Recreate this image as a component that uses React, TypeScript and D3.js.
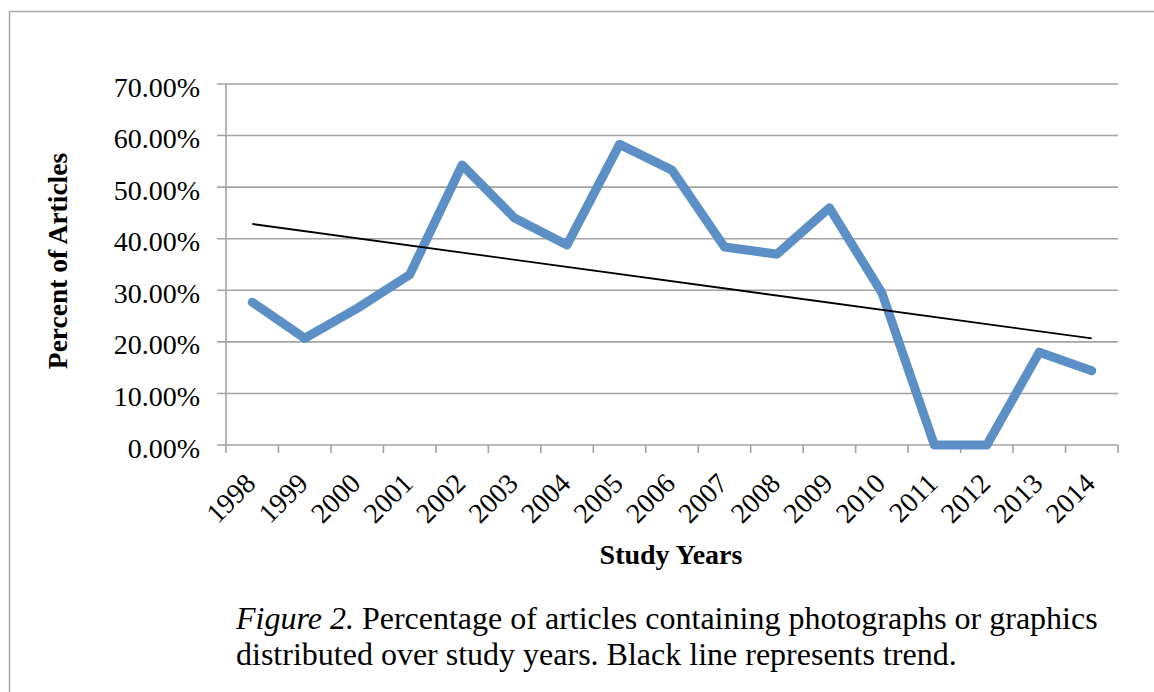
import React from "react";
import * as d3 from "d3";

const years = ["1998","1999","2000","2001","2002","2003","2004","2005","2006","2007","2008","2009","2010","2011","2012","2013","2014"];
const percents = [27.7, 20.7, 26.5, 33.0, 54.3, 44.0, 38.8, 58.3, 53.3, 38.4, 37.0, 46.0, 29.5, 0, 0, 18.0, 14.4];
const yTicks = [0, 10, 20, 30, 40, 50, 60, 70];
const yTitle = "Percent of Articles";
const xTitle = "Study Years";
const captionItalic = "Figure 2.";
const captionLine1 = " Percentage of articles containing photographs or graphics";
const captionLine2 = "distributed over study years. Black line represents trend.";

const W = 1154, H = 692;
const plot = { left: 226, right: 1118, top: 84, bottom: 445 };
const serif = "'Liberation Serif', 'Times New Roman', serif";
const grid = "#a3a3a3";

export default function App() {
  const x = d3.scaleBand<string>().domain(years).range([plot.left, plot.right]).padding(0);
  const y = d3.scaleLinear().domain([0, 70]).range([plot.bottom, plot.top]);
  const cx = (yr: string) => (x(yr) as number) + x.bandwidth() / 2;

  const line = d3.line<number>().x((_, i) => cx(years[i])).y((d) => y(d));

  // linear regression trend
  const n = percents.length;
  const xm = d3.mean(d3.range(n)) as number;
  const ym = d3.mean(percents) as number;
  let sxy = 0, sxx = 0;
  percents.forEach((v, i) => { sxy += (i - xm) * (v - ym); sxx += (i - xm) * (i - xm); });
  const slope = sxy / sxx;
  const intercept = ym - slope * xm;
  const trend = [0, n - 1].map((i) => ({ i, v: intercept + slope * i }));

  const tickXs = years.map((yr) => x(yr) as number).concat([plot.right]);

  return (
    <svg width={W} height={H} style={{ position: "absolute", left: 0, top: 0, background: "#fff" }}>
      <rect x={0} y={0} width={W} height={H} fill="#fff" />
      <path d={`M9.5,${H + 5} L9.5,11.5 L${W + 5},11.5`} fill="none" stroke="#a6a6a6" strokeWidth={1.5} />

      {yTicks.map((t) => (
        <g key={t}>
          <line x1={plot.left - 9} x2={plot.right} y1={y(t)} y2={y(t)} stroke={grid} strokeWidth={1.6} />
          <text x={200} y={y(t) + 12.5} textAnchor="end" fontFamily={serif} fontSize={28} fill="#000">
            {t.toFixed(2) + "%"}
          </text>
        </g>
      ))}
      <line x1={plot.left} x2={plot.left} y1={plot.top} y2={plot.bottom} stroke={grid} strokeWidth={1.6} />
      {tickXs.map((tx, i) => (
        <line key={i} x1={tx} x2={tx} y1={plot.bottom} y2={plot.bottom + 8} stroke={grid} strokeWidth={1.6} />
      ))}

      {years.map((yr) => (
        <text key={yr} transform={`translate(${cx(yr) + 5},${485}) rotate(-45)`} textAnchor="end"
          fontFamily={serif} fontSize={28} fill="#000">{yr}</text>
      ))}

      <path d={line(percents) || ""} fill="none" stroke="#5b8fc6" strokeWidth={9} strokeLinejoin="round" strokeLinecap="round" />
      <line x1={cx(years[trend[0].i])} y1={y(trend[0].v)} x2={cx(years[trend[1].i])} y2={y(trend[1].v)} stroke="#000" strokeWidth={1.8} />

      <text transform={`translate(67,261) rotate(-90)`} textAnchor="middle" fontFamily={serif} fontWeight="bold" fontSize={27.5} fill="#000">{yTitle}</text>
      <text x={671} y={564} textAnchor="middle" fontFamily={serif} fontWeight="bold" fontSize={28} fill="#000">{xTitle}</text>

      <text x={236} y={629} fontFamily={serif} fontSize={32} fill="#000">
        <tspan fontStyle="italic">{captionItalic}</tspan>
        <tspan>{captionLine1}</tspan>
      </text>
      <text x={236} y={665} fontFamily={serif} fontSize={32} fill="#000">{captionLine2}</text>
    </svg>
  );
}
